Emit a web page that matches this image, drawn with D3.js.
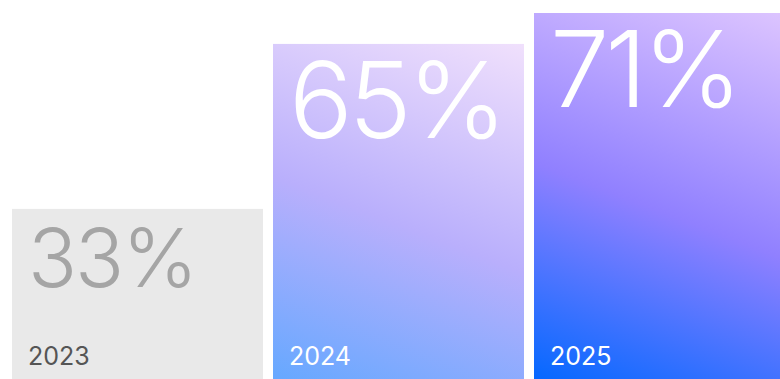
<!DOCTYPE html>
<html>
<head>
<meta charset="utf-8">
<script src="https://cdn.jsdelivr.net/npm/d3@7"></script>
<style>
  html, body { margin: 0; padding: 0; background: #fff; }
  svg { display: block; }
</style>
</head>
<body>
<div id="chart"></div>
<script>
const years = ["2023", "2024", "2025"];
const shares = [33, 65, 71];

const W = 780;
const H = 379;

const svg = d3.select("#chart")
  .append("svg")
  .attr("width", W)
  .attr("height", H);

const x = d3.scaleBand()
  .domain(years)
  .range([12, 785])
  .paddingInner(10 / 261)
  .paddingOuter(0);

const y = d3.scaleLinear()
  .domain([0, 71])
  .range([H, 13]);

const defs = svg.append("defs");
const gradStops = {
  "2024": [["0%", "#66a8ff"], ["47%", "#b9affc"], ["100%", "#f0e0fc"]],
  "2025": [["0%", "#0568ff"], ["47%", "#9080ff"], ["100%", "#dcc4ff"]],
};

const data = years.map((yr, i) => ({ year: yr, value: shares[i] }));

// css-like angled gradient in user space, tilted from vertical
const angle = (21 * Math.PI) / 180;
data.forEach((d) => {
  const stops = gradStops[d.year];
  if (!stops) return;
  const x0 = x(d.year);
  const w = Math.min(x.bandwidth(), W - x0);
  const y0 = y(d.value);
  const h = H - y0;
  const cx = x0 + w / 2;
  const cy = y0 + h / 2;
  const dx = Math.sin(angle);
  const dy = -Math.cos(angle);
  const L = Math.abs(w * dx) + Math.abs(h * dy);
  const g = defs.append("linearGradient")
    .attr("id", `grad-${d.year}`)
    .attr("gradientUnits", "userSpaceOnUse")
    .attr("x1", cx - (dx * L) / 2)
    .attr("y1", cy - (dy * L) / 2)
    .attr("x2", cx + (dx * L) / 2)
    .attr("y2", cy + (dy * L) / 2);
  stops.forEach(([o, c]) => {
    g.append("stop").attr("offset", o).attr("stop-color", c);
  });
});

const bars = svg.append("g")
  .selectAll("g")
  .data(data)
  .enter()
  .append("g");

bars.append("rect")
  .attr("x", (d) => x(d.year))
  .attr("y", (d) => y(d.value))
  .attr("width", x.bandwidth())
  .attr("height", (d) => H - y(d.value))
  .attr("fill", (d) => (gradStops[d.year] ? `url(#grad-${d.year})` : "#e9e9e9"));

// big percentage
bars.append("text")
  .attr("x", (d) => x(d.year) + 16)
  .attr("y", (d) => y(d.value) + (d.value < 50 ? 78 : 94))
  .attr("font-family", "Inter, 'Noto Sans', sans-serif")
  .attr("font-weight", 300)
  .attr("font-size", (d) => (d.value < 50 ? 81 : 106))
  .attr("letter-spacing", (d) => (d.value < 50 ? -2 : -4))
  .attr("fill", (d) => (d.value < 50 ? "#a5a5a5" : "#ffffff"))
  .text((d) => `${d.value}%`);

// year label
bars.append("text")
  .attr("x", (d) => x(d.year) + 16)
  .attr("y", 365)
  .attr("font-family", "Inter, 'Noto Sans', sans-serif")
  .attr("font-weight", 400)
  .attr("font-size", 25)
  .attr("fill", (d) => (d.value < 50 ? "#555555" : "#ffffff"))
  .text((d) => d.year);
</script>
</body>
</html>
